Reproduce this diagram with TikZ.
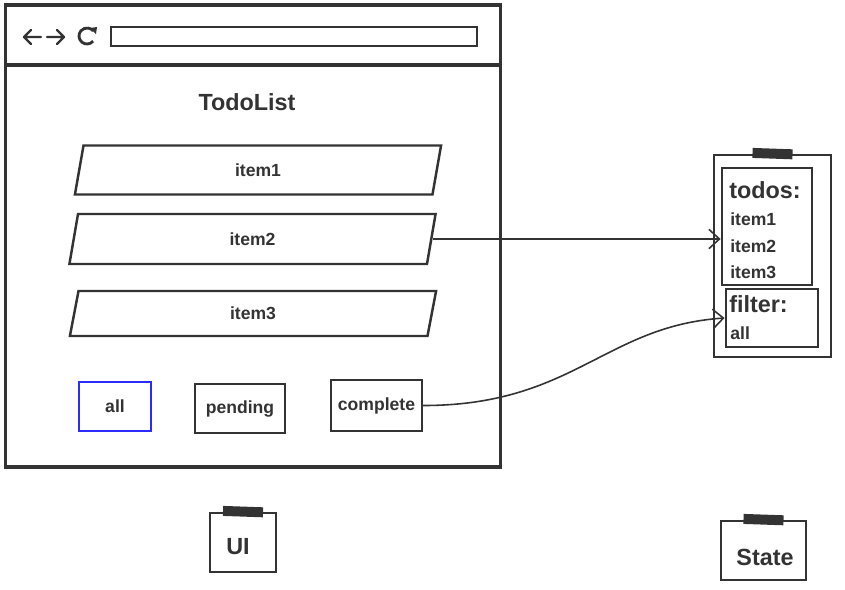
\documentclass[tikz,border=0pt]{standalone}
\usepackage{fontspec}
\setmainfont{Liberation Sans}
\usepackage{tikz}
\usetikzlibrary{positioning, shapes.geometric, arrows.meta}

\definecolor{ink}{RGB}{51,51,51}
\definecolor{btnblue}{RGB}{44,44,250}

\begin{document}
\begin{tikzpicture}[
  x=0.02cm, y=-0.02cm,
  every node/.style={text=ink, font=\bfseries\fontsize{10}{12}\selectfont},
  frame/.style={rectangle, draw=ink, line width=1.6pt, inner sep=0pt},
  row/.style={trapezium, trapezium left angle=85, trapezium right angle=95,
              trapezium stretches=true, draw=ink, line width=1.4pt,
              minimum width=7.34cm, minimum height=#1, inner sep=0pt},
  button/.style={rectangle, draw=#1, line width=1.4pt, inner sep=0pt},
  tape/.style={rectangle, fill=ink, minimum width=0.8cm, minimum height=0.2cm, inner sep=0pt},
  biglabel/.style={font=\bfseries\fontsize{13.3}{16}\selectfont},
  flow/.style={draw=ink, line width=0.9pt, -{Straight Barb[length=6pt, width=11pt]}},
]
\useasboundingbox (0,0) rectangle (845,589);

% --- browser window
\node[frame, line width=1.8pt, minimum width=9.9cm, minimum height=9.24cm] (browser) at (253,236) {};
\draw[ink, line width=1.8pt] (browser.west |- 0,65) -- (browser.east |- 0,65);
\node[frame, line width=1.4pt, minimum width=7.32cm, minimum height=0.38cm] (addrbar) at (294,36.5) {};

% toolbar icons
\draw[ink, line width=1.4pt, line cap=round, line join=round]
  (31,30) -- (24,37) -- (31,44) (24,37) -- (41,37)
  (57,30) -- (64,37) -- (57,44) (47,37) -- (64,37);
\draw[ink, line width=1.6pt] (87,36) ++(40:8) arc (40:320:8);
\fill[ink] (90,28) -- (97,27) -- (96,34) -- cycle;

\node[biglabel] (title) at (247,102) {TodoList};

% --- todo rows
\node[row=0.98cm] (item1) at (258,170) {item1};
\node[row=1.0cm] (item2) at (252.5,239) {item2};
\node[row=0.9cm] (item3) at (253,313.5) {item3};

% --- filter buttons
\node[button=btnblue, minimum width=1.44cm, minimum height=0.98cm] (btnall) at (115,406.5) {all};
\node[button=ink, minimum width=1.8cm, minimum height=0.98cm] (btnpending) at (240,408.5) {pending};
\node[button=ink, minimum width=1.82cm, minimum height=1.02cm] (btncomplete) at (376.5,405.5) {complete};

% --- state card
\node[frame, minimum width=2.34cm, minimum height=4.04cm] (statecard) at (772.5,256) {};
\node[tape, rotate=-2] (statetape) at (statecard.north) {};
\node[frame, minimum width=1.8cm, minimum height=2.34cm] (todosbox) at (767,226.5) {};
\node[frame, minimum width=1.84cm, minimum height=1.16cm] (filterbox) at (772,318) {};

\node[biglabel, anchor=west, inner sep=0pt] (todoshead) at (729,190) {todos:};
\node[anchor=west, inner sep=0pt] (s1) at (730,219) {item1};
\node[anchor=west, inner sep=0pt] (s2) at (730,246) {item2};
\node[anchor=west, inner sep=0pt] (s3) at (730,272) {item3};
\node[biglabel, anchor=west, inner sep=0pt] (filterhead) at (729,304) {filter:};
\node[anchor=west, inner sep=0pt] (sall) at (730,333) {all};

% --- connectors
\draw[flow] (item2.east) -- (item2.east -| todosbox.west);
\draw[flow] (btncomplete.east) .. controls +(150,0) and +(-120,8) .. (filterbox.west);

% --- captions
\node[frame, minimum width=1.32cm, minimum height=1.18cm] (uicard) at (243,542.5) {};
\node[tape, rotate=-2] (uitape) at (uicard.north) {};
\node[biglabel] (uitext) at (238,547) {UI};

\node[frame, minimum width=1.7cm, minimum height=1.18cm] (statelabel) at (763.5,550.5) {};
\node[tape, rotate=-2] (labeltape) at (statelabel.north) {};
\node[biglabel] (statetext) at (765,557) {State};

\end{tikzpicture}
\end{document}
